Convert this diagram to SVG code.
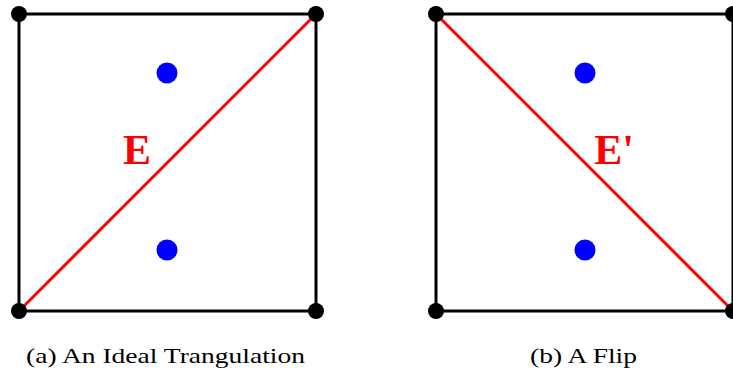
<svg xmlns="http://www.w3.org/2000/svg" width="733" height="374" viewBox="0 0 733 374">
<style>
.edge{stroke:#000;stroke-width:3;fill:none}
.diag{stroke:#f00;stroke-width:3;fill:none}
.v{fill:#000}
.b{fill:#00f}
.lbl{font-family:"Liberation Serif",serif;font-weight:bold;font-size:42px;fill:#f00}
.cap{font-family:"Liberation Serif",serif;font-size:21px;fill:#000}
</style>
<g id="connectors">
<polyline class="edge" points="19,14 316,14 316,311 19,311 19,14"/>
<line class="diag" x1="19" y1="311" x2="316" y2="14"/>
<polyline class="edge" points="436,14 733,14 733,311 436,311 436,14"/>
<line class="diag" x1="436" y1="14" x2="733" y2="311"/>
</g>
<g id="a_tl"><circle class="v" cx="19" cy="14" r="8"/></g>
<g id="a_tr"><circle class="v" cx="316" cy="14" r="8"/></g>
<g id="a_bl"><circle class="v" cx="19" cy="311" r="8"/></g>
<g id="a_br"><circle class="v" cx="316" cy="311" r="8"/></g>
<g id="a_p1"><circle class="b" cx="167" cy="73" r="10.5"/></g>
<g id="a_p2"><circle class="b" cx="167" cy="250" r="10.5"/></g>
<g id="a_label"><text class="lbl" x="137" y="164" text-anchor="middle">E</text></g>
<g id="b_tl"><circle class="v" cx="436" cy="14" r="8"/></g>
<g id="b_tr"><circle class="v" cx="733" cy="14" r="8"/></g>
<g id="b_bl"><circle class="v" cx="436" cy="311" r="8"/></g>
<g id="b_br"><circle class="v" cx="733" cy="311" r="8"/></g>
<g id="b_p1"><circle class="b" cx="585" cy="73" r="10.5"/></g>
<g id="b_p2"><circle class="b" cx="585" cy="250" r="10.5"/></g>
<g id="b_label"><text class="lbl" x="614" y="164" text-anchor="middle">E'</text></g>
<g id="captions">
<text class="cap" x="26" y="363" textLength="279" lengthAdjust="spacingAndGlyphs">(a) An Ideal Trangulation</text>
<text class="cap" x="530" y="363" textLength="107" lengthAdjust="spacingAndGlyphs">(b) A Flip</text>
</g>
</svg>
